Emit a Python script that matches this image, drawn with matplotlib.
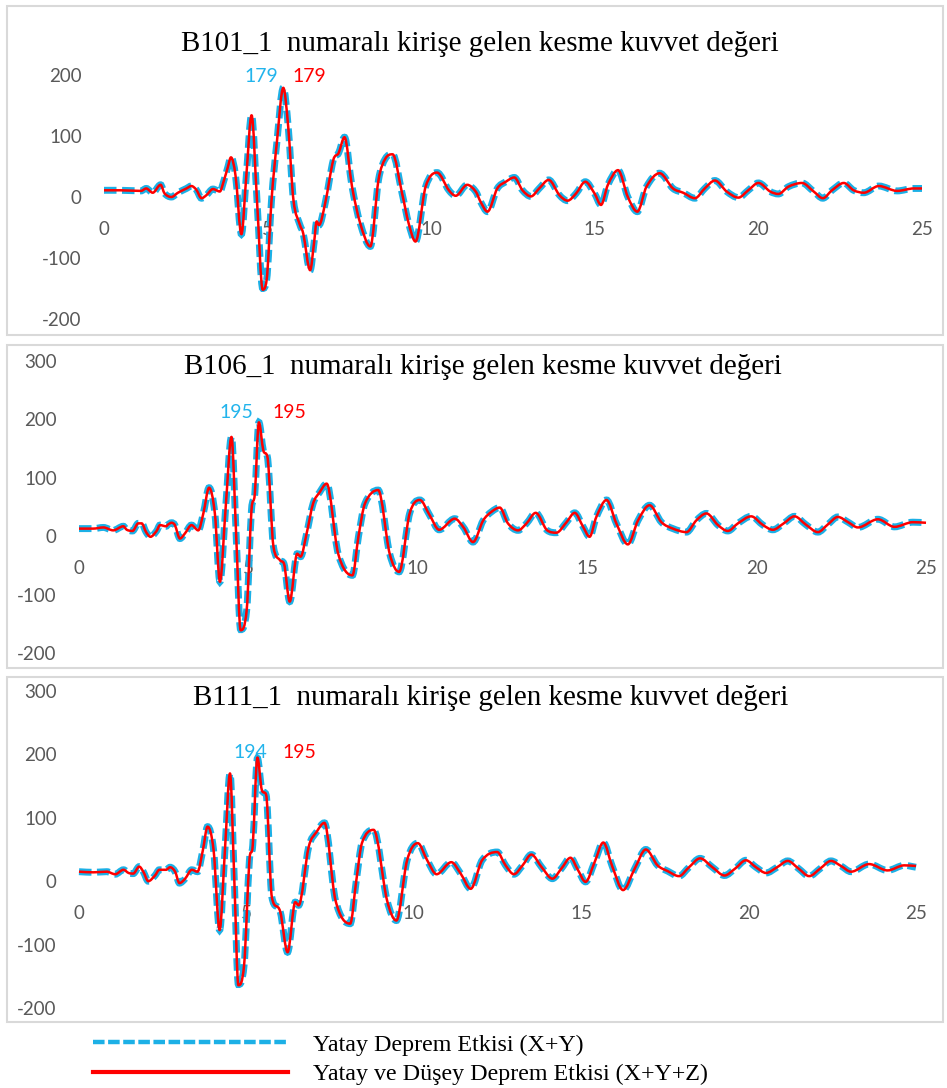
import matplotlib.pyplot as plt
from matplotlib.lines import Line2D
from matplotlib.patches import Rectangle, PathPatch
from matplotlib.path import Path

plt.rcParams["axes.unicode_minus"] = False

# B101_1
t1 = [0, 0.5, 1.13, 1.29, 1.49, 1.73, 1.85, 2.06, 2.26, 2.52,
      2.67, 2.82, 2.98, 3.13, 3.33, 3.54, 3.67, 3.78, 3.88, 4.02,
      4.20, 4.35, 4.51, 4.68, 4.85, 4.97, 5.12, 5.28, 5.48, 5.63,
      5.79, 5.99, 6.09, 6.30, 6.42, 6.50, 6.57, 6.76, 7.01, 7.17,
      7.35, 7.58, 7.83, 8.14, 8.39, 8.60, 8.82, 9.11, 9.31, 9.52,
      9.83, 10.18, 10.54, 10.75, 11.10, 11.36, 11.51, 11.72, 12.02, 12.28,
      12.54, 12.79, 13.05, 13.30, 13.59, 13.92, 14.17, 14.43, 14.71, 14.99,
      15.19, 15.40, 15.71, 16.01, 16.30, 16.58, 16.98, 17.39, 17.70, 18.06,
      18.36, 18.67, 19.03, 19.39, 19.69, 20.00, 20.36, 20.61, 20.92, 21.33,
      21.69, 21.97, 22.25, 22.61, 22.91, 23.22, 23.68, 24.24, 24.75, 25.0]
b101_xy = [11, 11, 10, 14, 7, 20, 6, 0, 7, 14,
           18, 12, -2, 3, 13, 9, 28, 48, 65, 35,
           -61, 35, 134, -10, -150, -136, -5, 88, 179, 115,
           -5, -46, -60, -120, -75, -40, -46, -10, 61, 72,
           98, 17, -43, -81, 28, 63, 70, 6, -43, -73,
           17, 40, 11, 2, 20, 9, -8, -24, 14, 25,
           32, 11, 1, 14, 28, 3, -6, 6, 25, 6,
           -13, 20, 44, 0, -24, 17, 39, 14, 7, -2,
           14, 27, 9, -1, 11, 23, 9, 5, 17, 23,
           9, -2, 11, 23, 11, 7, 18, 10, 14, 14]
b101_xyz = [11, 11, 10, 14, 7, 20, 6, 0, 7, 14,
            18, 12, -2, 3, 13, 9, 28, 48, 65, 35,
            -61, 35, 134, -10, -152, -136, -5, 88, 179, 115,
            -5, -46, -60, -120, -75, -40, -46, -10, 61, 72,
            98, 17, -43, -81, 28, 63, 70, 6, -43, -73,
            17, 40, 11, 2, 20, 9, -8, -24, 14, 25,
            32, 11, 1, 14, 28, 3, -6, 6, 25, 6,
            -13, 20, 44, 0, -24, 17, 39, 14, 7, -2,
            14, 27, 9, -1, 11, 23, 9, 5, 17, 23,
            9, -2, 11, 23, 11, 7, 18, 10, 14, 14]

# B106_1
t2 = [0, 0.42, 0.72, 1.01, 1.31, 1.41, 1.58, 1.75, 1.85, 1.98,
      2.11, 2.29, 2.39, 2.57, 2.63, 2.73, 2.83, 2.98, 3.13, 3.32,
      3.52, 3.67, 3.84, 4.01, 4.16, 4.33, 4.50, 4.64, 4.77, 4.95,
      5.09, 5.19, 5.31, 5.44, 5.56, 5.74, 5.93, 6.05, 6.22, 6.44,
      6.54, 6.72, 6.91, 7.10, 7.31, 7.65, 8.07, 8.25, 8.44, 8.83,
      9.17, 9.45, 9.76, 10.06, 10.35, 10.63, 11.09, 11.35, 11.63, 11.93,
      12.18, 12.42, 12.66, 12.96, 13.21, 13.48, 13.82, 14.09, 14.39, 14.63,
      14.88, 15.07, 15.27, 15.57, 15.86, 16.20, 16.50, 16.84, 17.19, 17.53,
      17.93, 18.22, 18.52, 18.86, 19.15, 19.45, 19.84, 20.19, 20.48, 20.80,
      21.12, 21.45, 21.81, 22.10, 22.40, 22.70, 22.99, 23.58, 24.07, 24.61,
      25.0]
b106_xy = [13, 13, 15, 10, 17, 11, 9, 22, 22, 7,
           -1, 9, 19, 17, 20, 23, 19, -4, 5, 19,
           10, 39, 83, 39, -78, 50, 170, 0, -160, -126,
           44, 73, 195, 147, 136, -18, -41, -47, -112, -30,
           -35, 5, 56, 75, 90, -30, -67, 0, 56, 79,
           -30, -61, 39, 62, 36, 11, 30, 15, -10, 27,
           42, 49, 22, 10, 22, 40, 10, 6, 24, 40,
           16, -1, 33, 62, 22, -14, 27, 53, 24, 13,
           7, 27, 39, 19, 9, 22, 34, 19, 11, 22,
           34, 20, 7, 20, 33, 24, 15, 29, 16, 24,
           23]
b106_xyz = [13, 13, 15, 10, 17, 11, 9, 22, 22, 7,
            -1, 9, 19, 17, 20, 23, 19, -4, 5, 19,
            10, 39, 83, 39, -78, 50, 170, 0, -161, -126,
            44, 73, 195, 147, 136, -18, -41, -47, -112, -30,
            -35, 5, 56, 75, 90, -30, -67, 0, 56, 79,
            -30, -61, 39, 62, 36, 11, 30, 15, -10, 27,
            42, 49, 22, 10, 22, 40, 10, 6, 24, 40,
            16, -1, 33, 62, 22, -14, 27, 53, 24, 13,
            7, 27, 39, 19, 9, 22, 34, 19, 11, 22,
            34, 20, 7, 20, 33, 24, 15, 29, 16, 24,
            23]

# B111_1
t3 = [0, 0.43, 0.83, 1.08, 1.33, 1.48, 1.62, 1.80, 1.92, 2.07,
      2.27, 2.40, 2.60, 2.72, 2.87, 3.00, 3.17, 3.37, 3.54, 3.70,
      3.84, 4.02, 4.20, 4.36, 4.51, 4.64, 4.76, 4.93, 5.09, 5.19,
      5.33, 5.46, 5.59, 5.76, 6.01, 6.23, 6.46, 6.56, 6.86, 7.10,
      7.33, 7.66, 8.10, 8.28, 8.45, 8.80, 9.20, 9.48, 9.80, 10.12,
      10.40, 10.68, 11.12, 11.40, 11.70, 12.04, 12.49, 12.74, 12.99, 13.25,
      13.51, 13.82, 14.14, 14.41, 14.68, 14.90, 15.13, 15.40, 15.66, 15.93,
      16.25, 16.60, 16.93, 17.28, 17.58, 17.92, 18.22, 18.55, 18.92, 19.28,
      19.60, 19.92, 20.22, 20.52, 20.85, 21.17, 21.49, 21.81, 22.14, 22.46,
      22.76, 23.06, 23.60, 24.15, 24.65, 25.0]
b111_xy = [15, 14, 15, 11, 18, 13, 12, 23, 15, 0,
           9, 18, 18, 22, 15, -3, 4, 18, 15, 49,
           86, 49, -77, 50, 170, 0, -163, -133, 33, 57,
           194, 144, 136, -25, -48, -112, -33, -38, 54, 78,
           92, -30, -67, 0, 60, 81, -30, -62, 33, 60,
           33, 11, 30, 12, -12, 33, 46, 25, 11, 25,
           42, 22, 4, 20, 37, 18, -1, 30, 61, 23,
           -14, 20, 50, 25, 16, 8, 22, 36, 22, 9,
           20, 33, 22, 13, 22, 32, 20, 8, 20, 32,
           24, 15, 27, 17, 25, 22]
b111_xyz = [15, 14, 15, 11, 18, 13, 12, 23, 15, 0,
            9, 18, 18, 22, 15, -3, 4, 18, 15, 49,
            86, 49, -77, 50, 170, 0, -164, -133, 33, 57,
            195, 144, 136, -25, -48, -112, -33, -38, 54, 78,
            92, -30, -67, 0, 60, 81, -30, -62, 33, 60,
            33, 11, 30, 12, -12, 33, 46, 25, 11, 25,
            42, 22, 4, 20, 37, 18, -1, 30, 61, 23,
            -14, 20, 50, 25, 16, 8, 22, 36, 22, 9,
            20, 33, 22, 13, 22, 32, 20, 8, 20, 32,
            24, 15, 27, 17, 25, 24]

titles = ["B101_1  numaralı kirişe gelen kesme kuvvet değeri",
          "B106_1  numaralı kirişe gelen kesme kuvvet değeri",
          "B111_1  numaralı kirişe gelen kesme kuvvet değeri"]
legend_labels = ["Yatay Deprem Etkisi (X+Y)",
                 "Yatay ve Düşey Deprem Etkisi (X+Y+Z)"]

BLUE = "#1CB0E6"
RED = "#FF0000"
GREY = "#595959"
W, H = 947, 1088


def fx(px):
    return px / W


def fy(py):
    return 1 - py / H


def smooth_path(t, v):
    # smoothed line drawn as cubic Bezier segments through every data point,
    # flat at local peaks/troughs so the curve does not overshoot them
    n = len(t)
    d = [(v[i + 1] - v[i]) / (t[i + 1] - t[i]) for i in range(n - 1)]
    slopes = [d[0]]
    for i in range(1, n - 1):
        if d[i - 1] * d[i] <= 0:
            slopes.append(0.0)
        else:
            s = (v[i + 1] - v[i - 1]) / (t[i + 1] - t[i - 1])
            lim = 3 * min(abs(d[i - 1]), abs(d[i]))
            slopes.append(max(-lim, min(lim, s)))
    slopes.append(d[-1])
    verts = [(t[0], v[0])]
    codes = [Path.MOVETO]
    for i in range(n - 1):
        h = (t[i + 1] - t[i]) / 3
        verts += [(t[i] + h, v[i] + slopes[i] * h),
                  (t[i + 1] - h, v[i + 1] - slopes[i + 1] * h),
                  (t[i + 1], v[i + 1])]
        codes += [Path.CURVE4] * 3
    return Path(verts, codes)


fig = plt.figure(figsize=(W / 100, H / 100), dpi=100)

# pixel layout of each panel: box, axes area, title, label offsets
panels = [
    dict(t=t1, xy=b101_xy, xyz=b101_xyz, title=titles[0],
         box=(7, 6, 943, 335), ax=(104, 75, 922, 319), ylim=(-200, 200),
         title_xy=(480, 44), off_b=(-16, 8), off_r=(19, 8)),
    dict(t=t2, xy=b106_xy, xyz=b106_xyz, title=titles[1],
         box=(7, 345, 943, 668), ax=(79, 361, 926, 653), ylim=(-200, 300),
         title_xy=(483, 367), off_b=(-16, 7), off_r=(22, 7)),
    dict(t=t3, xy=b111_xy, xyz=b111_xyz, title=titles[2],
         box=(7, 677, 943, 1022), ax=(79, 691, 916, 1008), ylim=(-200, 300),
         title_xy=(491, 698), off_b=(-5, 4), off_r=(30, 4)),
]

for p in panels:
    x0, y0, x1, y1 = p["box"]
    fig.add_artist(Rectangle((fx(x0), fy(y1)), fx(x1) - fx(x0), fy(y0) - fy(y1),
                             transform=fig.transFigure, fill=False,
                             edgecolor="#D9D9D9", linewidth=1.5))

    ax0, ay0, ax1, ay1 = p["ax"]
    ax = fig.add_axes([fx(ax0), fy(ay1), fx(ax1) - fx(ax0), fy(ay0) - fy(ay1)])
    ax.set_xlim(0, 25)
    ax.set_ylim(*p["ylim"])

    ax.add_patch(PathPatch(smooth_path(p["t"], p["xy"]), fill=False,
                           edgecolor=BLUE, linewidth=5.0,
                           linestyle=(0, (1.8, 0.8)), capstyle="butt",
                           zorder=2, clip_on=False))
    ax.add_patch(PathPatch(smooth_path(p["t"], p["xyz"]), fill=False,
                           edgecolor=RED, linewidth=1.8, joinstyle="round",
                           zorder=3, clip_on=False))

    # peak labels
    i_b = p["xy"].index(max(p["xy"]))
    i_r = p["xyz"].index(max(p["xyz"]))
    ax.annotate(f"{p['xy'][i_b]:.0f}", (p["t"][i_b], p["xy"][i_b]),
                xytext=p["off_b"], textcoords="offset points", ha="center",
                va="center", color="#22B4EC", fontsize=14, family="Lato")
    ax.annotate(f"{p['xyz'][i_r]:.0f}", (p["t"][i_r], p["xyz"][i_r]),
                xytext=p["off_r"], textcoords="offset points", ha="center",
                va="center", color=RED, fontsize=14, family="Lato")

    ax.set_xticks(range(0, 26, 5))
    ax.set_yticks(range(p["ylim"][0], p["ylim"][1] + 1, 100))
    for s in ax.spines.values():
        s.set_visible(False)
    ax.spines["bottom"].set_position(("data", 0))
    ax.tick_params(axis="y", length=0, pad=16, labelsize=13.5, labelcolor=GREY)
    ax.tick_params(axis="x", length=0, pad=17, labelsize=13.5, labelcolor=GREY)
    for lab in ax.get_xticklabels() + ax.get_yticklabels():
        lab.set_family("Lato")
    ax.patch.set_alpha(0)

    tx, ty = p["title_xy"]
    fig.text(fx(tx), fy(ty), p["title"], ha="center", va="center",
             family="Liberation Serif", fontsize=20.9, color="black")

handles = [Line2D([], [], color=BLUE, linewidth=3.2, dashes=(2.6, 0.8)),
           Line2D([], [], color=RED, linewidth=3.0)]
fig.legend(handles, legend_labels, loc="upper left",
           bbox_to_anchor=(fx(93), fy(1034)), frameon=False,
           prop={"family": "Liberation Serif", "size": 17.3},
           handlelength=8.1, handletextpad=1.05, labelspacing=0.32,
           borderpad=0, borderaxespad=0)

fig.savefig("out.png", dpi=100)
